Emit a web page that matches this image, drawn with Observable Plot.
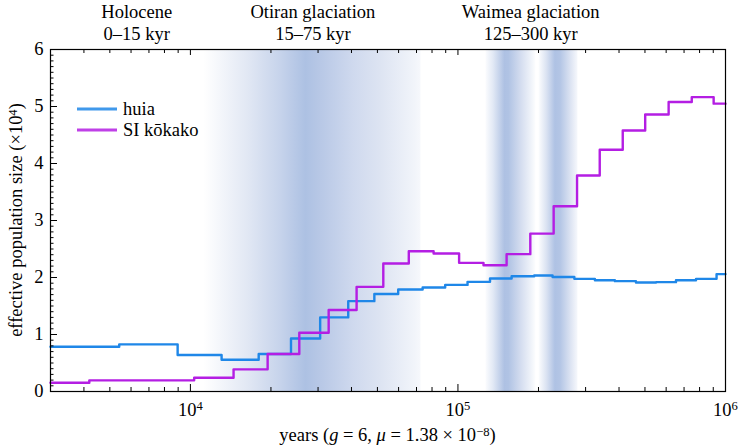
<!DOCTYPE html>
<html><head><meta charset="utf-8">
<script src="https://cdn.jsdelivr.net/npm/d3@7"></script>
<script src="https://cdn.jsdelivr.net/npm/@observablehq/plot@0.6"></script>
<style>
html,body{margin:0;padding:0;background:#fff;}
</style></head><body><div id="chart"></div>
<script>
// ---- data (Ne in units of 10^4, step starts in years) ----
const huiaYears = [3000, 5420, 8960, 13080, 18000, 23770, 30550, 38900, 48700, 59800, 73800, 89600, 108600, 131800, 158700, 192800, 225800, 272300, 325000, 386000, 462700, 550000, 653000, 776000, 926000, 1000000];
const huiaNe = [0.785, 0.827, 0.64, 0.557, 0.657, 0.93, 1.30, 1.585, 1.71, 1.79, 1.825, 1.87, 1.924, 1.983, 2.023, 2.035, 2.01, 1.976, 1.953, 1.936, 1.913, 1.918, 1.953, 1.976, 2.06, 2.06];
const kokakoYears = [3000, 4190, 10330, 14500, 19440, 25530, 32870, 41800, 52600, 65500, 81100, 101000, 124600, 152000, 186400, 227900, 278700, 338800, 413000, 501000, 613000, 748000, 903000, 1000000];
const kokakoNe = [0.154, 0.196, 0.242, 0.389, 0.657, 1.03, 1.43, 1.836, 2.246, 2.46, 2.42, 2.257, 2.216, 2.41, 2.77, 3.25, 3.79, 4.24, 4.58, 4.86, 5.08, 5.165, 5.05, 5.05];

const seriesNames = ["huia", "SI kōkako"];

const bandIds = ["otiran", "waimea1", "waimea2"];
const bandStart = [11230, 127250, 200900];
const bandEnd = [72730, 195640, 280900];

const periodLabels = ["Holocene\n0–15 kyr", "Otiran glaciation\n15–75 kyr", "Waimea glaciation\n125–300 kyr"];
const periodCenters = [6300, 28700, 187000];

const xDomain = [3000, 1000000];
const yDomain = [0, 6];
const xMajor = [1e4, 1e5, 1e6];
const yMajor = [0, 1, 2, 3, 4, 5, 6];

// ---- layout / style ----
const W = 738, H = 447, mL = 50, mR = 13, mT = 49, mB = 56;
const iw = W - mL - mR, ih = H - mT - mB;
const FONT = "'Liberation Serif', 'Times New Roman', serif";
const FS = 18.5;
const BLUE = "#1f87e8", MAGENTA = "#b41ee3";

const xMinor = [];
for (const dec of [1e3, 1e4, 1e5]) for (let k = 2; k <= 9; k++) { const v = k * dec; if (v > xDomain[0] && v < xDomain[1]) xMinor.push(v); }
const yMinor = d3.range(0, 61).map(i => i / 10).filter(v => !Number.isInteger(v));

const gradStops = {
  otiran: [[0,"#ffffff"],[0.2,"#e2e8f4"],[0.355,"#c6d3eb"],[0.47,"#adc1e3"],[0.54,"#b8c8e6"],[0.69,"#cfd9ee"],[0.815,"#dde4f2"],[0.97,"#f1f4fa"],[1,"#f6f8fc"]],
  waimea1: [[0,"#fbfcfe"],[0.15,"#e2e9f5"],[0.38,"#aec1e3"],[0.46,"#b0c3e4"],[0.7,"#d3dcef"],[0.9,"#eef2f9"],[1,"#fcfdfe"]],
  waimea2: [[0,"#fcfdfe"],[0.2,"#dbe3f2"],[0.42,"#afc2e4"],[0.55,"#b3c5e5"],[0.8,"#d9e1f1"],[1,"#f6f8fc"]]
};

const defsMark = () => {
  const d = d3.create("svg:defs");
  for (const id of bandIds) {
    const g = d.append("linearGradient").attr("id", id).attr("x1", 0).attr("x2", 1).attr("y1", 0).attr("y2", 0);
    for (const [o, c] of gradStops[id]) g.append("stop").attr("offset", o).attr("stop-color", c);
  }
  return d.node();
};

const huia = huiaYears.map((t, i) => ({t, v: huiaNe[i]}));
const kokako = kokakoYears.map((t, i) => ({t, v: kokakoNe[i]}));

const plot = Plot.plot({
  width: W, height: H,
  marginLeft: mL, marginRight: mR, marginTop: mT, marginBottom: mB,
  style: {fontFamily: FONT, fontSize: FS + "px", background: "#fff", color: "#000"},
  x: {type: "log", domain: xDomain},
  y: {domain: yDomain},
  marks: [
    defsMark,
    ...bandIds.map((id, i) => Plot.rect([i], {x1: j => bandStart[j], x2: j => bandEnd[j], y1: yDomain[0], y2: yDomain[1], fill: `url(#${id})`})),
    Plot.line(huia, {x: "t", y: "v", curve: "step-after", stroke: BLUE, strokeWidth: 2.4}),
    Plot.line(kokako, {x: "t", y: "v", curve: "step-after", stroke: MAGENTA, strokeWidth: 2.4}),
    // inward ticks
    Plot.tickX(xMajor, {x: d => d, insetTop: ih - 7, stroke: "#000"}),
    Plot.tickX(xMinor, {x: d => d, insetTop: ih - 4, stroke: "#000"}),
    Plot.tickX(xMajor, {x: d => d, insetBottom: ih - 6, stroke: "#000"}),
    Plot.tickX(xMinor, {x: d => d, insetBottom: ih - 4, stroke: "#000"}),
    Plot.tickY(yMajor, {y: d => d, insetRight: iw - 7, stroke: "#000"}),
    Plot.tickY(yMinor, {y: d => d, insetRight: iw - 3.5, stroke: "#000"}),
    Plot.axisX({ticks: xMajor, tickSize: 0, tickPadding: 11, tickFormat: d => String(Math.round(Math.log10(d))), label: null, ariaLabel: "x-axis"}),
    Plot.axisY({ticks: yMajor, tickSize: 0, tickPadding: 7, tickFormat: d => String(d), label: null}),
    Plot.text(periodCenters.map((c, i) => i), {x: i => periodCenters[i], text: i => periodLabels[i], frameAnchor: "top", lineAnchor: "bottom", dy: -10, lineHeight: 1.15}),
    Plot.frame({stroke: "#000", strokeWidth: 1.2})
  ]
});

const svg = d3.select(plot);
// rewrite x tick labels as 10 with a raised exponent
svg.selectAll('g[aria-label="x-axis tick label"] text').each(function () {
  const t = d3.select(this);
  const e = t.text();
  t.text(null);
  t.append("tspan").text("10");
  t.append("tspan").attr("dy", "-0.42em").attr("font-size", "0.68em").text(e);
});
// y axis title
const yt = svg.append("text")
  .attr("transform", `translate(22,${mT + ih / 2}) rotate(-90)`)
  .attr("text-anchor", "middle").attr("font-family", FONT).attr("font-size", FS);
yt.append("tspan").text("effective population size (×10");
yt.append("tspan").attr("dy", "-0.42em").attr("font-size", "0.68em").text("4");
yt.append("tspan").attr("dy", "0.29em").text(")");
// x axis title
const xt = svg.append("text").attr("x", mL + iw / 2).attr("y", 441)
  .attr("text-anchor", "middle").attr("font-family", FONT).attr("font-size", FS);
xt.append("tspan").text("years (");
xt.append("tspan").attr("font-style", "italic").text("g");
xt.append("tspan").text(" = 6, ");
xt.append("tspan").attr("font-style", "italic").text("μ");
xt.append("tspan").text(" = 1.38 × 10");
xt.append("tspan").attr("dy", "-0.42em").attr("font-size", "0.68em").text("−8");
xt.append("tspan").attr("dy", "0.29em").text(")");
// legend
const colors = [BLUE, MAGENTA];
const lg = svg.append("g").attr("font-family", FONT).attr("font-size", FS).attr("text-anchor", "start");
seriesNames.forEach((name, i) => {
  const y = 109 + i * 21;
  lg.append("line").attr("x1", 77).attr("x2", 117).attr("y1", y).attr("y2", y)
    .attr("stroke", colors[i]).attr("stroke-width", 3).attr("stroke-opacity", 0.85);
  lg.append("text").attr("x", 123).attr("y", y + 6).attr("text-anchor", "start").text(name);
});

document.getElementById("chart").appendChild(plot);
</script>
</body></html>
